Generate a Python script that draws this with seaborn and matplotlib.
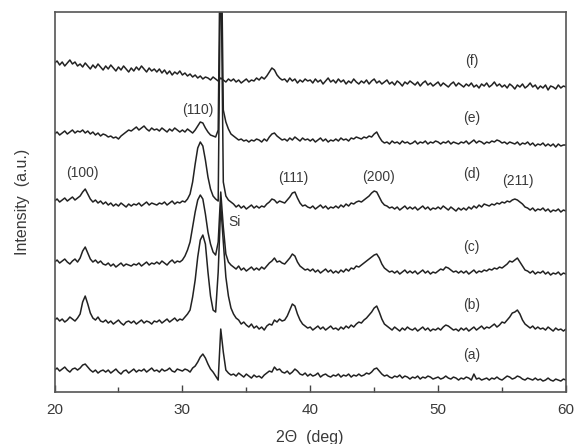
import numpy as np
import pandas as pd
import matplotlib.pyplot as plt
import seaborn as sns

# XRD patterns, intensity in arbitrary units (stacked), 2theta step 0.2 deg
two_theta = np.linspace(20, 60, 201)

curve_a = [22, 24, 21, 23, 25, 22, 20, 23, 24, 22,
           24, 27, 28, 25, 22, 20, 22, 19, 21, 22,
           20, 22, 19, 21, 23, 20, 18, 21, 22, 19,
           21, 23, 20, 22, 21, 23, 20, 22, 24, 21,
           22, 20, 23, 21, 22, 24, 21, 20, 23, 22,
           21, 23, 22, 20, 24, 26, 30, 35, 38, 34,
           28, 23, 20, 16, 12, 63, 40, 22, 19, 17,
           18, 16, 19, 17, 15, 18, 16, 14, 17, 15,
           16, 14, 17, 19, 21, 20, 25, 22, 23, 20,
           19, 21, 18, 20, 23, 21, 18, 17, 19, 16,
           18, 16, 17, 19, 15, 17, 18, 16, 15, 17,
           16, 18, 15, 17, 16, 18, 15, 17, 16, 18,
           16, 17, 19, 18, 20, 23, 24, 21, 18, 16,
           17, 15, 14, 16, 15, 17, 14, 16, 15, 13,
           15, 14, 16, 13, 15, 14, 16, 15, 13, 14,
           15, 13, 14, 16, 14, 13, 15, 14, 12, 14,
           13, 15, 14, 12, 18, 13, 14, 12, 13, 14,
           12, 14, 13, 15, 13, 12, 14, 16, 15, 13,
           14, 16, 15, 13, 12, 14, 13, 12, 14, 12,
           13, 11, 12, 14, 12, 11, 13, 12, 11, 13,
           12]

curve_b = [72, 74, 71, 73, 70, 72, 75, 73, 71, 74,
           78, 90, 96, 88, 79, 74, 72, 75, 71, 70,
           72, 69, 71, 68, 70, 72, 69, 67, 70, 71,
           69, 71, 68, 70, 72, 69, 71, 70, 68, 71,
           70, 72, 69, 71, 73, 70, 72, 74, 71, 73,
           72, 75, 78, 82, 95, 112, 135, 152, 157, 148,
           120, 96, 82, 80, 120, 187, 150, 115, 96, 84,
           78, 74, 72, 68, 70, 67, 65, 68, 64, 66,
           63, 65, 62, 66, 68, 67, 72, 70, 73, 71,
           72, 76, 82, 88, 86, 78, 72, 68, 66, 64,
           65, 62, 64, 66, 63, 65, 62, 64, 66, 63,
           64, 62, 65, 63, 66, 64, 67, 65, 68, 70,
           69, 72, 74, 77, 80, 84, 86, 80, 73, 68,
           66, 64, 62, 65, 63, 61, 64, 62, 65, 63,
           62, 64, 61, 63, 65, 62, 64, 61, 63, 62,
           64, 62, 65, 67, 66, 64, 62, 63, 61, 64,
           62, 64, 61, 63, 65, 62, 64, 66, 63, 65,
           64, 66, 68, 65, 67, 70, 69, 72, 75, 79,
           80, 82, 78, 72, 68, 66, 64, 66, 63, 65,
           63, 64, 62, 65, 63, 61, 64, 62, 63, 61,
           63]

curve_c = [130, 132, 129, 131, 133, 130, 128, 131, 133, 130,
           134, 141, 145, 139, 133, 130, 132, 129, 131, 128,
           127, 129, 126, 128, 125, 127, 129, 126, 128, 127,
           126, 128, 127, 129, 126, 128, 130, 127, 129, 128,
           130, 128, 131, 129, 127, 130, 132, 129, 131, 130,
           132, 136, 142, 150, 165, 180, 192, 197, 193, 178,
           160, 148, 140, 137, 150, 200, 165, 138, 130, 127,
           125, 123, 126, 122, 124, 121, 123, 125, 122, 124,
           122, 125, 123, 126, 129, 131, 134, 130, 131, 129,
           128, 131, 134, 138, 136, 130, 126, 124, 122, 123,
           121, 123, 120, 122, 119, 121, 123, 120, 122, 119,
           121, 119, 122, 120, 123, 121, 124, 123, 126, 125,
           127, 129, 131, 133, 135, 137, 138, 134, 128, 124,
           122, 120, 121, 119, 121, 118, 120, 122, 119, 121,
           119, 121, 118, 120, 122, 119, 121, 118, 120, 119,
           121, 123, 122, 125, 124, 122, 120, 121, 119, 121,
           119, 121, 118, 120, 122, 119, 121, 120, 122, 121,
           123, 122, 124, 123, 125, 124, 126, 128, 131, 130,
           132, 134, 130, 126, 122, 121, 119, 121, 118, 120,
           119, 121, 118, 120, 117, 119, 118, 120, 117, 119,
           118]

curve_d = [191, 193, 190, 192, 194, 191, 193, 195, 192, 194,
           196, 200, 203, 198, 193, 190, 192, 189, 191, 188,
           190, 187, 189, 186, 188, 186, 189, 187, 185, 188,
           186, 188, 187, 189, 186, 188, 190, 187, 189, 188,
           187, 189, 188, 190, 187, 189, 191, 188, 190, 189,
           191, 190, 193, 198, 210, 228, 244, 250, 246, 232,
           215, 203, 196, 193, 191, 450, 210, 196, 192, 190,
           188, 185, 187, 184, 186, 183, 185, 187, 184, 186,
           184, 186, 185, 188, 190, 193, 192, 189, 191, 190,
           189, 192, 195, 199, 200, 194, 189, 186, 187, 185,
           184, 186, 183, 185, 187, 184, 186, 183, 185, 184,
           186, 184, 187, 185, 188, 186, 189, 188, 190, 191,
           190, 192, 194, 196, 199, 201, 200, 195, 190, 187,
           186, 184, 185, 183, 185, 182, 184, 186, 183, 185,
           183, 185, 182, 184, 186, 183, 185, 182, 184, 183,
           185, 183, 186, 184, 182, 185, 183, 181, 184, 182,
           184, 182, 185, 183, 186, 184, 187, 185, 188, 187,
           186, 188, 187, 189, 188, 190, 189, 191, 190, 192,
           193, 192, 190, 188, 185, 184, 182, 184, 181, 183,
           182, 184, 181, 183, 180, 182, 181, 183, 180, 182,
           181]

curve_e = [258, 260, 257, 259, 261, 258, 260, 262, 259, 261,
           260, 262, 259, 261, 258, 260, 257, 259, 256, 258,
           257, 255, 256, 254, 255, 253, 256, 258, 260, 262,
           261, 263, 265, 262, 264, 266, 263, 261, 264, 262,
           263, 261, 264, 262, 260, 263, 261, 264, 262, 260,
           262, 260, 263, 261, 259, 262, 266, 270, 269, 264,
           260, 257, 256, 255, 262, 500, 282, 270, 263, 258,
           256, 254, 252, 253, 251, 252, 250, 252, 251, 253,
           252, 250, 253, 251, 255, 258, 259, 256, 254, 252,
           253, 251, 254, 252, 255, 253, 251, 254, 252, 253,
           251, 253, 250, 252, 254, 251, 253, 250, 252, 251,
           253, 251, 254, 252, 253, 251, 254, 253, 255, 254,
           253, 255, 254, 256, 255, 258, 260, 255, 251, 249,
           250, 248, 251, 249, 250, 248, 251, 249, 250, 248,
           249, 251, 248, 250, 249, 251, 248, 250, 249, 251,
           250, 248, 250, 249, 251, 248, 250, 249, 248, 250,
           249, 251, 248, 250, 252, 249, 251, 250, 248, 250,
           249, 251, 250, 252, 251, 249, 250, 248, 250, 249,
           248, 250, 247, 249, 248, 250, 247, 249, 246, 248,
           247, 249, 246, 248, 246, 248, 245, 248, 246, 247,
           247]

curve_f = [329, 331, 327, 330, 326, 329, 332, 328, 330, 326,
           328, 325, 329, 326, 323, 327, 324, 328, 325, 322,
           326, 323, 327, 324, 321, 325, 322, 326, 323, 320,
           324, 321, 325, 322, 326, 323, 320, 324, 321, 323,
           320, 323, 319, 322, 318, 321, 317, 320, 318, 321,
           317, 319, 316, 318, 315, 317, 314, 316, 313, 315,
           314, 312, 315, 313, 311, 314, 312, 310, 313, 311,
           313, 310, 312, 309, 311, 313, 310, 312, 311, 314,
           312, 315, 313, 316, 320, 324, 322, 317, 314, 312,
           313, 310, 314, 311, 313, 309, 312, 310, 313, 311,
           312, 309, 313, 310, 312, 308, 311, 314, 310, 312,
           309, 313, 310, 312, 308, 311, 309, 313, 310, 308,
           311, 309, 312, 308, 311, 313, 309, 311, 308, 310,
           312, 308, 310, 307, 311, 309, 306, 310, 308, 311,
           309, 307, 310, 306, 309, 311, 307, 309, 306, 308,
           310, 306, 309, 307, 305, 308, 310, 306, 309, 307,
           305, 308, 306, 309, 305, 307, 304, 308, 306, 309,
           305, 307, 310, 306, 308, 305, 307, 304, 308, 306,
           303, 307, 305, 308, 304, 306, 309, 305, 307, 303,
           306, 304, 307, 302, 306, 305, 303, 307, 304, 306,
           305]

sample_names = ['(a)', '(b)', '(c)', '(d)', '(e)', '(f)']
sample_label_y = [37, 87, 145, 218, 274, 331]

peak_names = ['(100)', '(110)', '(111)', '(200)', '(211)']
peak_pos = [22.2, 31.2, 38.7, 45.3, 56.2]
peak_label_y = [219, 282, 214, 215, 211]

curves = [curve_a, curve_b, curve_c, curve_d, curve_e, curve_f]
df = pd.concat([pd.DataFrame({'2theta': two_theta, 'I': c, 'sample': n})
                for c, n in zip(curves, sample_names)])

sns.set_style('ticks')
plt.rcParams['font.family'] = ['Liberation Sans', 'DejaVu Sans']
txt = '#3a3a3a'

fig, ax = plt.subplots(figsize=(5.74, 4.44), dpi=100)
fig.subplots_adjust(left=0.095, right=0.986, top=0.973, bottom=0.117)

sns.lineplot(data=df, x='2theta', y='I', hue='sample', units='sample', estimator=None,
             palette={n: '#222222' for n in sample_names}, linewidth=1.1,
             legend=False, ax=ax)

ax.set_xlim(20, 60)
ax.set_ylim(0, 380)
ax.set_xticks([20, 30, 40, 50, 60])
ax.set_xticks([25, 35, 45, 55], minor=True)
ax.set_yticks([])
ax.tick_params(axis='x', which='major', direction='in', length=5, width=1.0,
               color='#444444', labelsize=11, labelcolor=txt, pad=8)
ax.tick_params(axis='x', which='minor', direction='in', length=3.5, width=1.0,
               color='#444444')
for s in ax.spines.values():
    s.set_visible(True)
    s.set_color('#555555')
    s.set_linewidth(1.2)

ax.set_xlabel('2Θ  (deg)', fontsize=11.5, color=txt, labelpad=9)
ax.set_ylabel('Intensity  (a.u.)', fontsize=11.5, color=txt, labelpad=18)

for n, y in zip(sample_names, sample_label_y):
    ax.text(52.6, y, n, fontsize=10, color=txt, ha='center', va='center')
for n, x, y in zip(peak_names, peak_pos, peak_label_y):
    ax.text(x, y, n, fontsize=10, color=txt, ha='center', va='center')
ax.text(33.6, 170, 'Si', fontsize=10, color=txt, ha='left', va='center')

fig.savefig('out.png', dpi=100)
